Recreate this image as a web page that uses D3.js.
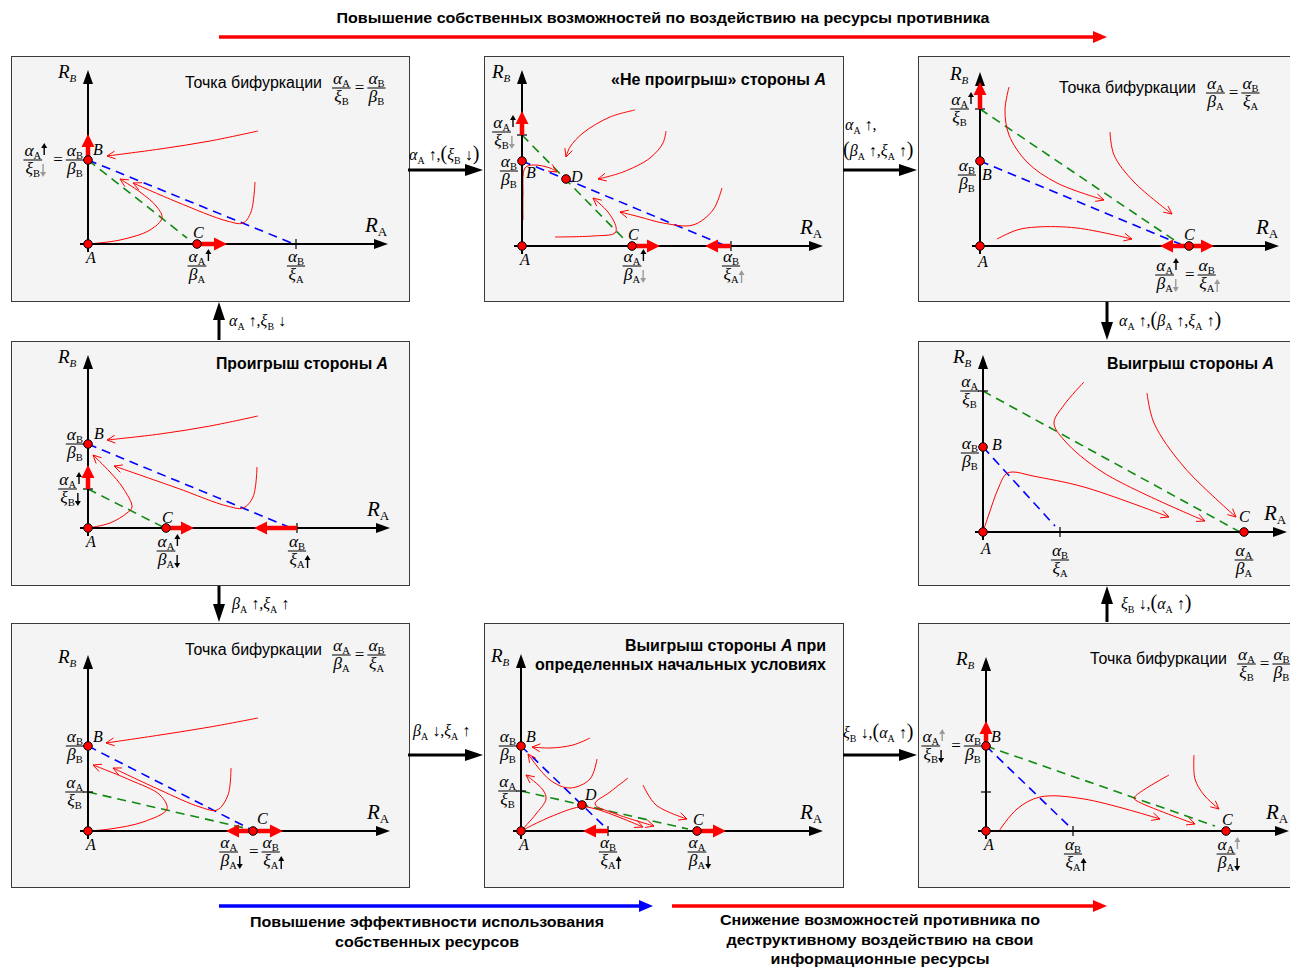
<!DOCTYPE html>
<html><head><meta charset="utf-8">
<script src="https://cdn.jsdelivr.net/npm/d3@7"></script>
<style>body{margin:0;background:#fff}svg{display:block}</style>
</head><body>
<svg id="c" width="1290" height="967"></svg>
<script>
// ---------------- DATA (phase-plane values, abstract units) ----------------
const panelIds = ["p1","p2","p3","p4","p5","p6","p7","p8"];
const axisMaxX = [30.0, 30.1, 29.9, 30.2, 30.4, 30.2, 30.2, 30.3];
const axisMaxY = [17.4, 17.6, 17.4, 17.3, 17.7, 17.6, 17.7, 17.4];

// equilibrium points: panel, name, R_A, R_B
const equilibria = [
 ["p1","A",0,0],["p1","B",0,8.4],["p1","C",10.9,0],
 ["p2","A",0,0],["p2","B",0,8.5],["p2","C",11.0,0],["p2","D",4.4,6.7],
 ["p3","A",0,0],["p3","B",0,8.5],["p3","C",20.9,0],
 ["p4","A",0,0],["p4","B",0,8.4],["p4","C",7.8,0],
 ["p5","A",0,0],["p5","B",0,8.5],["p5","C",26.1,0],
 ["p6","A",0,0],["p6","B",0,8.5],["p6","C",16.5,0],
 ["p7","A",0,0],["p7","B",0,8.5],["p7","C",17.6,0],["p7","D",6.1,2.6],
 ["p8","A",0,0],["p8","B",0,8.5],["p8","C",24.0,0]
];

// isoclines (dashed): panel, colour, RA0, RB0, RA1, RB1
const isoclines = [
 ["p1","green",0,8.4,9.9,0.6],["p1","blue",0,8.4,20.6,0],
 ["p2","green",0,11.1,10.3,0.6],["p2","blue",0,8.5,20.4,0],
 ["p3","green",0,13.7,20.3,0],["p3","blue",0,8.5,20.0,0.2],
 ["p4","green",0,3.9,7.7,0],["p4","blue",0,8.4,20.3,0],
 ["p5","green",0,14.1,25.7,0],["p5","blue",0,8.5,7.2,0.6],
 ["p6","green",0,3.9,16.1,0.2],["p6","blue",0,8.5,16.4,0.1],
 ["p7","green",0,4.0,16.7,0.2],["p7","blue",0,8.5,8.6,0.2],
 ["p8","green",0,8.5,22.9,0.5],["p8","blue",0,8.5,8.6,0.2]
];

// shifts of equilibria (thick red arrows): panel, axis, from, to
const shifts = [
 ["p1","y",8.4,11.0],["p1","x",10.9,13.9],
 ["p2","y",11.1,13.5],["p2","x",11.0,13.8],["p2","x",20.9,18.3],
 ["p3","y",13.7,16.4],["p3","x",20.9,18.0],["p3","x",20.9,23.4],
 ["p4","y",3.9,6.3],["p4","x",7.8,10.6],["p4","x",20.9,16.6],
 ["p6","x",16.5,13.8],["p6","x",16.5,19.5],
 ["p7","x",8.7,6.2],["p7","x",17.6,20.5],
 ["p8","y",8.5,11.0]
];

// axis tick marks: panel, axis, value
const ticks = [
 ["p1","x",20.8],["p2","y",11.1],["p2","x",20.9],["p3","y",13.7],
 ["p4","y",3.9],["p4","x",20.9],["p5","y",14.1],["p5","x",7.7],
 ["p6","y",3.9],["p7","y",4.0],["p7","x",8.7],["p8","y",3.9],["p8","x",8.7]
];

// axis formulas: panel, axis, value, formula  (αA↑k = alpha_A with black up arrow, g = grey)
const axisLabels = [
 ["p1","y",8.4,"αA↑k/ξB↓g = αB/βB"],["p1","x",10.9,"αA↑k/βA"],["p1","x",20.8,"αB/ξA"],
 ["p2","y",11.1,"αA↑k/ξB↓g"],["p2","y",8.5,"αB/βB"],["p2","x",11.0,"αA↑k/βA↓g"],["p2","x",20.9,"αB/ξA↑g"],
 ["p3","y",13.7,"αA↑k/ξB"],["p3","y",8.5,"αB/βB"],["p3","x",20.9,"αA↑k/βA↓g = αB/ξA↑g"],
 ["p4","y",8.4,"αB/βB"],["p4","y",3.9,"αA↑k/ξB↓k"],["p4","x",7.8,"αA↑k/βA↓k"],["p4","x",20.9,"αB/ξA↑k"],
 ["p5","y",14.1,"αA/ξB"],["p5","y",8.5,"αB/βB"],["p5","x",7.7,"αB/ξA"],["p5","x",26.1,"αA/βA"],
 ["p6","y",8.5,"αB/βB"],["p6","y",3.9,"αA/ξB"],["p6","x",16.5,"αA/βA↓k = αB/ξA↑k"],
 ["p7","y",8.5,"αB/βB"],["p7","y",4.0,"αA/ξB"],["p7","x",8.7,"αB/ξA↑k"],["p7","x",17.6,"αA/βA↓k"],
 ["p8","y",8.5,"αA↑g/ξB↓k = αB/βB"],["p8","x",8.7,"αB/ξA↑k"],["p8","x",24.0,"αA↑g/βA↓k"]
];

// phase trajectories: panel, points [R_A, R_B]
const trajectories = [
 ["p1",[[17.0,11.3],[12.2,10.3],[7.2,9.5],[1.9,8.8]]],
 ["p1",[[16.7,6.2],[16.3,3.2],[15.5,2.1],[13.9,2.3],[8.9,4.2],[4.5,6.1]]],
 ["p1",[[0,0],[3.2,0.4],[6.2,1.4],[7.4,2.6],[6.9,3.7],[5.2,5.2],[3.2,6.5]]],
 ["p2",[[11.3,13.6],[8.8,12.9],[6.1,11.3],[4.8,9.9],[4.4,8.9]]],
 ["p2",[[14.4,11.5],[14.1,10.3],[12.8,8.8],[10.1,7.4],[7.6,6.7]]],
 ["p2",[[20.0,5.8],[19.1,3.6],[17.1,2.1],[14.1,2.3],[11.8,2.9],[9.8,3.4]]],
 ["p2",[[3.3,0.9],[7.1,1.0],[9.3,1.3],[9.4,1.9],[8.6,3.4],[7.1,4.8]]],
 ["p2",[[0.1,2.6],[0.1,5.1],[0.3,7.8],[1.1,8.1],[2.8,7.8],[3.5,7.4]]],
 ["p3",[[2.9,15.9],[2.5,13.6],[2.9,11.1],[4.7,8.4],[7.7,6.3],[12.4,4.6]]],
 ["p3",[[13.0,11.4],[13.4,9.1],[15.4,6.4],[19.2,3.2]]],
 ["p3",[[1.7,0.7],[3.7,1.6],[5.7,1.9],[9.7,1.8],[15.2,0.7]]],
 ["p4",[[17.0,11.2],[12.2,10.2],[7.2,9.4],[1.9,8.8]]],
 ["p4",[[16.9,6.1],[16.5,3.1],[15.5,2.0],[13.9,2.2],[8.9,4.0],[2.6,6.2]]],
 ["p4",[[0,0],[2.2,0.5],[3.9,1.5],[4.4,2.1],[3.5,4.0],[2.2,5.6],[0.5,7.3]]],
 ["p5",[[0,0],[0.6,1.8],[1.5,4.3],[2.3,5.8],[3.0,6.0],[5.0,5.6],[10.1,4.5],[18.6,1.5]]],
 ["p5",[[10.1,15.0],[8.1,12.7],[7.1,10.9],[8.1,9.2],[12.1,5.9],[22.2,1.1]]],
 ["p5",[[16.4,13.9],[17.1,10.9],[20.1,6.5],[25.3,1.5]]],
 ["p6",[[17.0,11.3],[12.2,10.4],[7.2,9.6],[1.8,8.8]]],
 ["p6",[[14.3,6.3],[14.0,3.6],[12.9,2.1],[11.2,2.4],[7.2,4.1],[2.5,6.3]]],
 ["p6",[[0,0],[2.2,0.2],[5.5,0.9],[7.9,2.2],[7.2,3.6],[4.2,5.1],[0.5,6.6]]],
 ["p7",[[6.9,9.3],[5.2,8.6],[2.9,8.3],[1.1,8.4]]],
 ["p7",[[7.6,7.2],[6.9,5.2],[4.9,4.3],[2.9,5.1],[0.7,7.7]]],
 ["p7",[[0,0],[1.5,1.7],[2.5,3.2],[2.2,4.1],[0.5,5.6]]],
 ["p7",[[0,0],[2.9,1.4],[5.9,2.4],[7.5,2.2],[12.2,0.4]]],
 ["p7",[[10.7,5.3],[8.9,3.9],[7.4,2.7],[9.5,1.7],[13.3,0.5]]],
 ["p7",[[12.2,4.6],[13.5,2.6],[16.6,1.2]]],
 ["p8",[[1.3,0],[3.1,2.2],[5.4,3.4],[9.8,3.2],[17.4,1.2]]],
 ["p8",[[18.3,5.6],[14.8,3.3],[15.1,3.0],[20.9,0.7]]],
 ["p8",[[20.8,7.6],[20.9,5.2],[21.8,3.6],[23.3,2.2]]]
];

// texts
const panelTitles = [
 ["p2",["«Не проигрыш» стороны |A|"]],
 ["p4",["Проигрыш стороны |A|"]],
 ["p5",["Выигрыш стороны |A|"]],
 ["p7",["Выигрыш стороны |A| при","определенных начальных условиях"]]
];
const bifurcationHeaders = [["p1","αA/ξB = αB/βB"],["p3","αA/βA = αB/ξA"],["p6","αA/βA = αB/ξA"],["p8","αA/ξB = αB/βB"]];
const headerText = "Точка бифуркации";
const connectorLabels = ["αA ↑,(ξB ↓)","αA ↑,","(βA ↑,ξA ↑)","αA ↑,ξB ↓","βA ↑,ξA ↑","βA ↓,ξA ↑","ξB ↓,(αA ↑)","αA ↑,(βA ↑,ξA ↑)","ξB ↓,(αA ↑)"];
const topTitle = "Повышение собственных возможностей по воздействию на ресурсы противника";
const bottomLeft = ["Повышение эффективности использования","собственных ресурсов"];
const bottomRight = ["Снижение возможностей противника по","деструктивному воздействию на свои","информационные ресурсы"];

// ---------------- LAYOUT ----------------
const panelBoxes = {
 p1:{x:11,y:56,w:398,h:245,ox:88,oy:244,xl:22},
 p2:{x:484,y:56,w:359,h:245,ox:522,oy:246,xl:20},
 p3:{x:918,y:56,w:390,h:245,ox:980,oy:246,xl:29},
 p4:{x:11,y:341,w:398,h:244,ox:88,oy:528,xl:23},
 p5:{x:918,y:341,w:390,h:244,ox:983,oy:532,xl:28},
 p6:{x:11,y:623,w:398,h:264,ox:88,oy:831,xl:21},
 p7:{x:484,y:623,w:359,h:264,ox:521,oy:831,xl:21},
 p8:{x:918,y:623,w:390,h:264,ox:986,oy:831,xl:23}
};
const labelShift = {"p2:y:11.1":-3, "p2:y:8.5":10, "p3:y:8.5":14, "p5:y:8.5":6};
const pointLabelOffsets = {
 p1:{A:[-2,19],B:[5,-5],C:[-4,-6]},
 p2:{A:[-2,19],B:[4,17],C:[-4,-6],D:[5,3]},
 p3:{A:[-2,21],B:[2,19],C:[-5,-6]},
 p4:{A:[-2,19],B:[6,-5],C:[-4,-5]},
 p5:{A:[-2,22],B:[9,3],C:[-5,-10]},
 p6:{A:[-2,19],B:[5,-4],C:[4,-7]},
 p7:{A:[-2,19],B:[5,-4],C:[-4,-6],D:[3,-5]},
 p8:{A:[-2,19],B:[5,-4],C:[-4,-6]}
};
const titleLayout = {p2:{x:826,y:85,w:[215]},p4:{x:388,y:369,w:[172]},p5:{x:1274,y:369,w:[167]},p7:{x:826,y:651,w:[201,291]}};
const headerLayout = {p1:{x:185,y:88},p3:{x:1059,y:93},p6:{x:185,y:655},p8:{x:1090,y:664}};
const connectorArrowLayout = [[408,170,483,170],[843,170,917,170],[219,340,219,302],[219,586,219,622],[408,755,483,755],[843,755,917,755],[1107,302,1107,340],[1107,622,1107,586]];
const connectorLabelLayout = [[409,160],[845,130],[843,156],[229,326],[232,609],[413,736],[843,738],[1119,326],[1121,609]];

const SERIF = "'Liberation Serif','Times New Roman',serif";
const SANS = "'Liberation Sans',Arial,sans-serif";
const COL = {green:"#118a11", blue:"#0000ff", red:"#ff0000"};
const GREEK = 17.5, SUB = 10.5;

const svg = d3.select("#c");

// ---------------- helpers ----------------
function fatArrow(g,x1,y1,x2,y2,color,width,hl,hw){
  const dx=x2-x1, dy=y2-y1, L=Math.hypot(dx,dy), ux=dx/L, uy=dy/L;
  const bx=x2-ux*hl, by=y2-uy*hl;
  g.append("line").attr("x1",x1).attr("y1",y1).attr("x2",bx+ux).attr("y2",by+uy)
    .attr("stroke",color).attr("stroke-width",width);
  g.append("path").attr("d",`M${x2},${y2}L${bx-uy*hw},${by+ux*hw}L${bx+uy*hw},${by-ux*hw}Z`).attr("fill",color);
}
function smallArrow(g,x,y0,y1,up,col){
  const tip = up? y0 : y1, base = up? y0+5 : y1-5;
  g.append("line").attr("x1",x).attr("x2",x).attr("y1",up?base:y0).attr("y2",up?y1:base)
    .attr("stroke",col).attr("stroke-width",1.4);
  g.append("path").attr("d",`M${x},${tip}L${x-3},${base}L${x+3},${base}Z`).attr("fill",col);
}
function parsePart(s){
  const ch=[...s];
  return {g:ch[0], s:ch[1], arr:ch[2]||null, col:ch[3]==="g"?"#9a9a9a":"#000"};
}
function partText(g,p,base){
  const t=g.append("text").attr("y",base).attr("font-family",SERIF).attr("fill","#000");
  t.append("tspan").attr("font-style","italic").attr("font-size",GREEK).text(p.g);
  t.append("tspan").attr("font-size",SUB).attr("dy",2.5).text(p.s);
  return t;
}
function drawFrac(g,spec,x0,yLine){
  const [n,d]=spec.split("/").map(parsePart);
  const tn=partText(g,n,yLine-4), td=partText(g,d,yLine+14);
  const wn=tn.node().getComputedTextLength(), wd=td.node().getComputedTextLength();
  const w=Math.max(wn,wd)+2, cx=x0+w/2;
  tn.attr("x",cx-wn/2); td.attr("x",cx-wd/2);
  g.append("line").attr("x1",x0).attr("x2",x0+w).attr("y1",yLine).attr("y2",yLine).attr("stroke","#000").attr("stroke-width",1);
  if(n.arr) smallArrow(g,cx+wn/2+3,yLine-17,yLine-5,n.arr==="↑",n.col);
  if(d.arr) smallArrow(g,cx+wd/2+3,yLine+4,yLine+17,d.arr==="↑",d.col);
  return {w:w+((n.arr||d.arr)?7:0), cx};
}
function drawFormula(parent,str,anchorX,yLine,align){
  const g=parent.append("g");
  let x=0, firstCx=null, nFrac=0;
  str.split(" ").forEach(tok=>{
    if(tok==="="){
      const t=g.append("text").attr("x",x+1).attr("y",yLine+5).attr("font-family",SERIF).attr("font-size",17).text("=");
      x+=t.node().getComputedTextLength()+4;
    } else {
      const r=drawFrac(g,tok,x,yLine); if(firstCx===null) firstCx=r.cx; nFrac++; x+=r.w+3;
    }
  });
  const total=x-3;
  let dx = align==="right" ? anchorX-total : align==="center" ? anchorX-(nFrac===1?firstCx:total/2) : anchorX;
  g.attr("transform",`translate(${dx},0)`);
}
function mathText(g,str,x,y,size){
  const t=g.append("text").attr("x",x).attr("y",y).attr("font-family",SERIF).attr("font-size",size)
    .attr("xml:space","preserve").style("white-space","pre");
  const ch=[...str]; let shifted=false;
  for(let i=0;i<ch.length;i++){
    const c=ch[i];
    const sp=t.append("tspan").text(c);
    if("αβξ".includes(c)) sp.attr("font-style","italic");
    if(c==="("||c===")") sp.attr("font-size",size*1.25);
    if(shifted){ sp.attr("dy",-3.5); shifted=false; }
    if("αβξ".includes(c) && ch[i+1] && /[A-Z]/.test(ch[i+1])){
      t.append("tspan").attr("font-size",size*0.62).attr("dy",3.5).text(ch[i+1]); shifted=true; i++;
    }
  }
}
function richText(g,str,x,y,size,anchor,len){
  const t=g.append("text").attr("x",x).attr("y",y).attr("font-family",SANS).attr("font-weight","bold")
    .attr("font-size",size).attr("text-anchor",anchor).attr("xml:space","preserve").style("white-space","pre");
  str.split("|").forEach((s,i)=>{ if(s.length) t.append("tspan").attr("font-style",i%2?"italic":"normal").text(s); });
  if(len) t.attr("textLength",len).attr("lengthAdjust","spacingAndGlyphs");
  return t;
}

// ---------------- scales ----------------
const scales={};
panelIds.forEach((id,i)=>{
  const b=panelBoxes[id];
  scales[id]={x:d3.scaleLinear().domain([0,30]).range([b.ox,b.ox+300]),
              y:d3.scaleLinear().domain([0,18]).range([b.oy,b.oy-180]),
              xMax:axisMaxX[i], yMax:axisMaxY[i]};
});

// ---------------- panels ----------------
const gPanels=svg.append("g");
panelIds.forEach(id=>{
  const b=panelBoxes[id];
  gPanels.append("rect").attr("x",b.x+0.5).attr("y",b.y+0.5).attr("width",b.w).attr("height",b.h)
    .attr("fill","#f4f4f4").attr("stroke","#3a3a3a").attr("stroke-width",1);
});
const gMarks=svg.append("g");

// isoclines
isoclines.forEach(([p,c,x0,y0,x1,y1])=>{
  const s=scales[p];
  gMarks.append("line").attr("x1",s.x(x0)).attr("y1",s.y(y0)).attr("x2",s.x(x1)).attr("y2",s.y(y1))
    .attr("stroke",COL[c]).attr("stroke-width",1.6).attr("stroke-dasharray","9,6");
});

// trajectories
const lineGen=d3.line().curve(d3.curveCatmullRom.alpha(0.5));
trajectories.forEach(([p,pts])=>{
  const s=scales[p];
  const path=gMarks.append("path").attr("d",lineGen(pts.map(d=>[s.x(d[0]),s.y(d[1])])))
    .attr("fill","none").attr("stroke",COL.red).attr("stroke-width",1);
  const n=path.node(), L=n.getTotalLength();
  const e=n.getPointAtLength(L), q=n.getPointAtLength(Math.max(0,L-6));
  const a=Math.atan2(e.y-q.y,e.x-q.x), hl=9, ang=0.45;
  const pA=[e.x-hl*Math.cos(a-ang), e.y-hl*Math.sin(a-ang)], pB=[e.x-hl*Math.cos(a+ang), e.y-hl*Math.sin(a+ang)];
  gMarks.append("path").attr("d",`M${pA[0]},${pA[1]}L${e.x},${e.y}L${pB[0]},${pB[1]}`)
    .attr("fill","none").attr("stroke",COL.red).attr("stroke-width",1);
});

// axes
panelIds.forEach(id=>{
  const s=scales[id], b=panelBoxes[id];
  const xt=s.x(s.xMax), yt=s.y(s.yMax);
  fatArrow(gMarks,b.ox-8,b.oy,xt,b.oy,"#000",2,14,5);
  fatArrow(gMarks,b.ox,b.oy+8,b.ox,yt,"#000",2,14,5);
  const rb=gMarks.append("text").attr("x",b.ox-30).attr("y",yt+8).attr("font-family",SERIF).attr("font-style","italic").attr("font-size",19);
  rb.append("tspan").text("R"); rb.append("tspan").attr("font-size",11).attr("dy",4).text("B");
  const ra=gMarks.append("text").attr("x",xt-23).attr("y",b.oy-12).attr("font-family",SERIF).attr("font-style","italic").attr("font-size",21);
  ra.append("tspan").text("R"); ra.append("tspan").attr("font-size",13).attr("font-style","normal").attr("dy",4).text("A");
});

// ticks
ticks.forEach(([p,ax,v])=>{
  const s=scales[p], b=panelBoxes[p];
  if(ax==="x") gMarks.append("line").attr("x1",s.x(v)).attr("x2",s.x(v)).attr("y1",b.oy-5).attr("y2",b.oy+5).attr("stroke","#000").attr("stroke-width",1.2);
  else gMarks.append("line").attr("y1",s.y(v)).attr("y2",s.y(v)).attr("x1",b.ox-5).attr("x2",b.ox+5).attr("stroke","#000").attr("stroke-width",1.2);
});

// shifts
shifts.forEach(([p,ax,v0,v1])=>{
  const s=scales[p], b=panelBoxes[p];
  if(ax==="x") fatArrow(gMarks,s.x(v0),b.oy,s.x(v1),b.oy,COL.red,4.5,13,6.5);
  else fatArrow(gMarks,b.ox,s.y(v0),b.ox,s.y(v1),COL.red,4.5,13,6.5);
});

// equilibria
equilibria.forEach(([p,name,x,y])=>{
  const s=scales[p], off=pointLabelOffsets[p][name];
  const cx=s.x(x), cy=s.y(y);
  gMarks.append("circle").attr("cx",cx).attr("cy",cy).attr("r",4.3).attr("fill",COL.red).attr("stroke","#000").attr("stroke-width",1);
  gMarks.append("text").attr("x",cx+off[0]).attr("y",cy+off[1]).attr("font-family",SERIF).attr("font-style","italic").attr("font-size",16).text(name);
});

// axis formulas
axisLabels.forEach(([p,ax,v,f])=>{
  const s=scales[p], b=panelBoxes[p];
  const sh=labelShift[`${p}:${ax}:${v}`]||0;
  if(ax==="y") drawFormula(gMarks,f,b.ox-4,s.y(v)+sh,"right");
  else drawFormula(gMarks,f,s.x(v),b.oy+b.xl,"center");
});

// panel titles
panelTitles.forEach(([p,lines])=>{
  const L=titleLayout[p];
  lines.forEach((ln,i)=>richText(gMarks,ln,L.x,L.y+i*19,16,"end",L.w[i]));
});

// bifurcation headers
bifurcationHeaders.forEach(([p,f])=>{
  const L=headerLayout[p];
  gMarks.append("text").attr("x",L.x).attr("y",L.y).attr("font-family",SANS).attr("font-size",16).text(headerText)
    .attr("textLength",137).attr("lengthAdjust","spacingAndGlyphs");
  drawFormula(gMarks,f,L.x+147,L.y,"left");
});

// connectors between panels
connectorArrowLayout.forEach(([x1,y1,x2,y2])=>fatArrow(svg,x1,y1,x2,y2,"#000",3,18,6));
connectorLabels.forEach((s,i)=>{ const [x,y]=connectorLabelLayout[i]; mathText(svg,s,x,y,16); });

// global arrows & captions
fatArrow(svg,219,37,1107,37,COL.red,3.5,14,6);
fatArrow(svg,219,906,653,906,COL.blue,3.5,14,6);
fatArrow(svg,672,906,1107,906,COL.red,3.5,14,6);
richText(svg,topTitle,663,23,15,"middle",653);
bottomLeft.forEach((s,i)=>richText(svg,s,427,927+i*20,15,"middle",[354,184][i]));
bottomRight.forEach((s,i)=>richText(svg,s,880,925+i*19.5,15,"middle",[320,307,219][i]));
</script>
</body></html>
